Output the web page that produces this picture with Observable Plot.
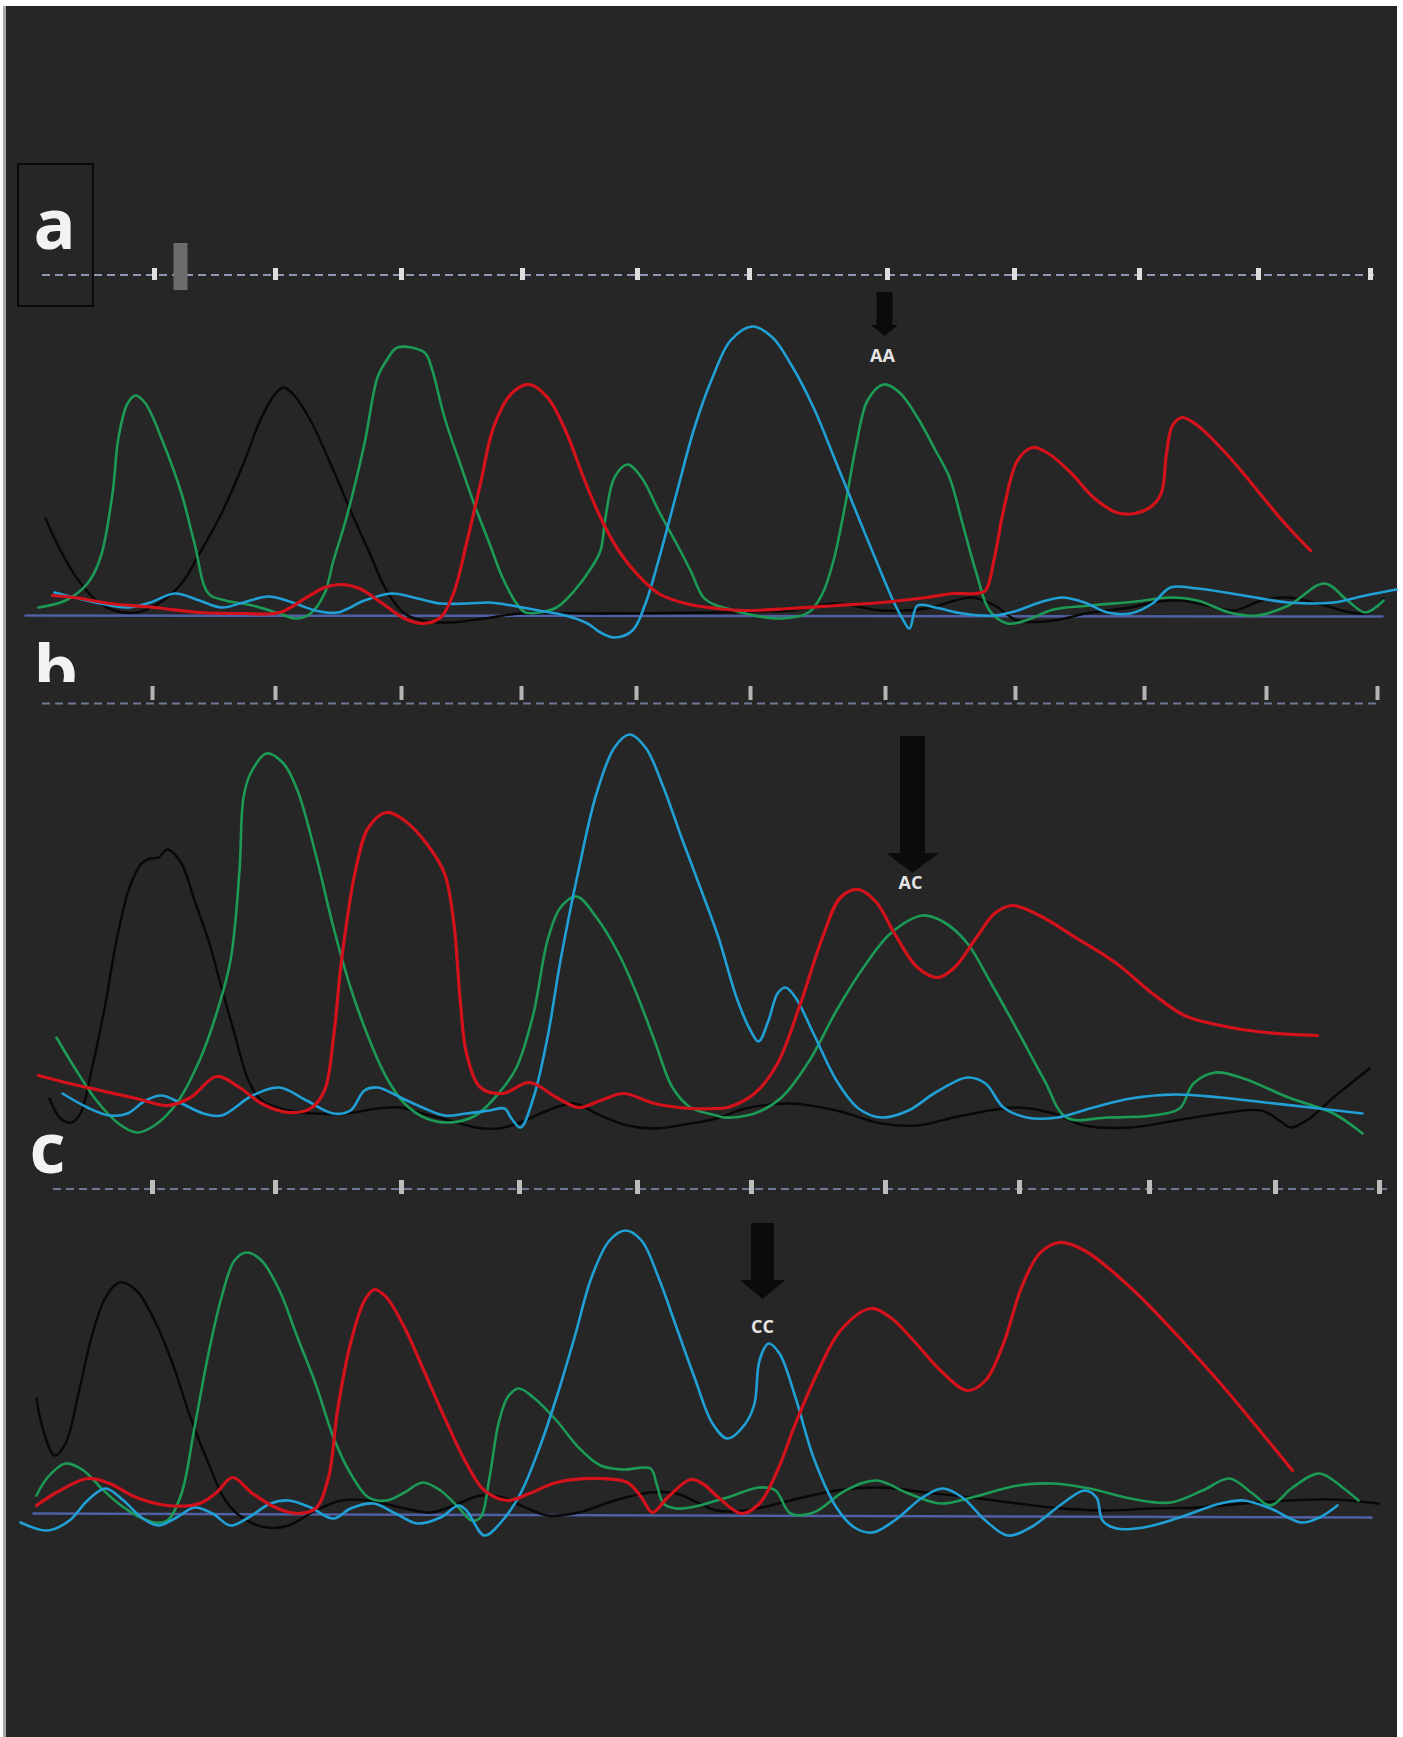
<!DOCTYPE html>
<html>
<head>
<meta charset="utf-8">
<script src="https://cdn.jsdelivr.net/npm/d3@7"></script>
<script src="https://cdn.jsdelivr.net/npm/@observablehq/plot@0.6"></script>
<style>
  html, body { margin: 0; padding: 0; background: #ffffff; }
  #page { position: relative; width: 1403px; height: 1737px; overflow: hidden; background: #ffffff; }
  #edge { position: absolute; left: 3px; top: 6px; width: 3px; height: 1731px; background: #a8a8a8; }
  #dark { position: absolute; left: 6px; top: 6px; width: 1391px; height: 1731px; background: #262626; }
  .panel { position: absolute; left: 0; width: 1403px; overflow: hidden; }
  .panel svg { display: block; }
</style>
</head>
<body>
<div id="page"><div id="edge"></div><div id="dark"></div></div>
<script>
// ---------- data: scan position (x) and signal above baseline (s) ----------
const dyes = ["black", "green", "blue", "red"];
const dyeColors = ["#080808", "#1c9a56", "#21a0d6", "#d3121c"];
const dyeWidths = [2.4, 2.6, 2.6, 3.2];

// panel a  (genotype AA)
const aBlack = [[45,97],[60,65],[78,35],[96,15],[114,5],[136,3],[158,12],[181,32],[199,62],[221,102],[243,152],[261,198],[275,222],[283,228],[292,222],[310,195],[333,145],[350,105],[368,65],[386,25],[404,2],[422,-5],[449,-7],[484,-3],[520,2],[600,2],[716,3],[745,4],[790,5],[836,12],[881,5],[926,7],[971,18],[994,10],[1017,-5],[1053,-5],[1085,2],[1130,8],[1152,13],[1180,15],[1207,10],[1234,5],[1261,15],[1288,18],[1324,10],[1351,3],[1369,3],[1383,17]];
const aGreen = [[38,8],[65,15],[87,32],[100,58],[112,122],[118,178],[127,212],[135,220],[145,212],[163,172],[181,122],[194,72],[208,22],[225,15],[252,10],[279,2],[295,-3],[310,2],[324,22],[333,55],[346,98],[364,172],[377,238],[386,255],[397,268],[424,263],[431,248],[444,198],[462,145],[475,108],[489,72],[502,38],[516,12],[525,3],[538,3],[556,8],[574,25],[591,48],[600,65],[605,98],[614,138],[627,151],[641,138],[658,105],[676,72],[690,45],[703,18],[716,10],[723,8],[754,0],[781,-3],[808,3],[822,22],[833,55],[845,112],[856,172],[867,215],[883,231],[899,223],[917,198],[935,165],[949,138],[962,92],[976,42],[989,5],[1007,-8],[1025,-5],[1053,6],[1090,10],[1135,14],[1170,18],[1197,15],[1229,3],[1256,0],[1288,10],[1324,32],[1347,15],[1365,3],[1383,15]];
const aBlue = [[54,23],[74,18],[100,12],[127,8],[150,13],[174,22],[199,15],[221,8],[243,13],[268,19],[292,13],[315,5],[337,3],[364,15],[391,22],[413,18],[440,12],[466,12],[489,13],[511,10],[538,5],[565,0],[587,-8],[600,-17],[614,-22],[632,-15],[645,12],[658,55],[676,122],[694,188],[712,238],[730,275],[752,289],[772,278],[790,252],[813,208],[836,152],[858,98],[881,42],[894,12],[903,-5],[909,-13],[917,10],[935,8],[962,2],[994,0],[1017,5],[1039,13],[1062,18],[1084,13],[1107,3],[1130,2],[1152,12],[1170,28],[1197,27],[1243,20],[1288,13],[1333,13],[1365,20],[1396,26]];
const aRed = [[52,20],[74,18],[109,12],[154,8],[199,3],[243,2],[279,3],[306,18],[324,28],[341,31],[359,27],[382,12],[404,-3],[422,-8],[440,-2],[453,22],[466,72],[480,132],[493,188],[511,222],[529,231],[547,218],[565,185],[583,138],[600,98],[618,65],[636,42],[658,22],[685,12],[716,7],[745,5],[790,7],[836,10],[881,13],[926,18],[953,22],[976,22],[985,25],[994,58],[1003,105],[1017,155],[1032,168],[1048,162],[1071,142],[1093,118],[1116,103],[1134,102],[1152,110],[1161,123],[1166,162],[1172,190],[1182,198],[1197,190],[1220,168],[1243,142],[1265,115],[1288,88],[1310,65]];

// panel b  (genotype AC)
const bBlack = [[49,27],[60,7],[71,3],[80,12],[91,55],[105,122],[116,185],[129,238],[141,262],[150,267],[158,268],[167,276],[181,262],[194,225],[208,185],[221,138],[234,92],[248,45],[261,25],[288,15],[315,12],[346,12],[377,17],[400,18],[422,12],[449,5],[475,-2],[498,-3],[520,3],[547,15],[574,22],[600,10],[627,0],[654,-3],[690,2],[716,7],[745,17],[790,22],[836,15],[881,2],[917,0],[962,10],[1017,18],[1053,12],[1084,0],[1130,-2],[1175,5],[1220,12],[1261,15],[1279,5],[1290,-2],[1306,5],[1333,28],[1369,57]];
const bGreen = [[56,88],[74,58],[96,25],[118,2],[136,-7],[154,0],[176,22],[199,65],[216,112],[230,165],[239,255],[243,328],[250,352],[266,372],[283,362],[297,335],[315,272],[333,198],[350,138],[368,88],[386,48],[404,22],[426,7],[449,3],[475,10],[498,32],[516,58],[533,112],[547,185],[560,218],[576,229],[596,208],[618,172],[636,132],[654,85],[672,38],[690,18],[716,10],[723,8],[754,12],[781,28],[809,65],[836,115],[863,158],[890,192],[922,210],[944,203],[967,182],[989,145],[1017,95],[1044,45],[1066,8],[1107,8],[1152,10],[1179,17],[1193,42],[1215,53],[1243,47],[1288,28],[1333,12],[1362,-8]];
const bBlue = [[62,32],[87,18],[109,10],[127,12],[145,25],[161,30],[181,22],[203,12],[221,10],[252,30],[279,38],[306,25],[333,12],[350,15],[364,35],[377,38],[400,28],[422,18],[444,10],[466,12],[489,15],[504,17],[511,7],[520,-2],[533,28],[547,88],[560,165],[578,255],[596,332],[614,378],[629,391],[645,378],[663,338],[681,288],[699,240],[718,188],[736,128],[750,95],[758,84],[768,105],[777,132],[785,138],[795,128],[813,92],[836,45],[858,17],[881,8],[908,15],[935,33],[967,48],[985,42],[1003,18],[1026,8],[1057,8],[1093,18],[1130,27],[1175,31],[1220,28],[1265,23],[1310,18],[1362,12]];
const bRed = [[38,50],[65,43],[100,35],[136,27],[167,20],[190,28],[216,49],[239,38],[261,22],[288,13],[310,17],[324,35],[333,88],[341,165],[355,255],[368,298],[386,313],[404,305],[426,282],[444,252],[453,205],[460,122],[466,72],[480,38],[502,32],[529,43],[556,28],[578,18],[600,25],[623,32],[654,22],[690,17],[716,17],[727,18],[754,32],[777,62],[800,122],[822,188],[840,228],[858,236],[876,223],[894,192],[917,158],[937,148],[953,157],[976,188],[994,212],[1012,220],[1039,210],[1075,188],[1116,162],[1152,132],[1184,110],[1220,100],[1265,93],[1317,90]];

// panel c  (genotype CC)
const cBlack = [[36,117],[42,88],[54,60],[65,72],[78,122],[91,178],[105,218],[119,233],[136,225],[154,195],[172,152],[190,98],[208,52],[225,15],[243,-3],[266,-12],[288,-10],[315,5],[341,15],[368,15],[400,8],[431,3],[458,12],[480,20],[502,18],[525,8],[547,0],[578,3],[614,15],[650,23],[676,22],[699,12],[716,5],[745,5],[790,15],[836,25],[881,28],[926,23],[971,18],[1017,12],[1062,7],[1107,5],[1152,7],[1197,8],[1243,12],[1288,15],[1333,16],[1378,12]];
const cGreen = [[36,20],[47,38],[65,52],[83,45],[100,28],[118,12],[136,0],[154,-7],[167,-5],[181,22],[194,88],[208,162],[221,218],[234,255],[246,263],[261,255],[279,225],[297,178],[315,132],[333,78],[350,42],[368,18],[386,15],[404,23],[422,33],[440,25],[458,8],[471,-5],[480,-2],[489,38],[498,92],[507,118],[518,127],[533,118],[556,95],[578,68],[600,50],[623,46],[650,47],[656,32],[663,12],[676,7],[699,10],[716,15],[727,18],[759,28],[775,25],[790,2],[813,3],[845,25],[876,35],[908,22],[940,12],[971,18],[1017,30],[1053,32],[1089,27],[1130,17],[1170,13],[1202,25],[1229,37],[1252,22],[1270,10],[1292,28],[1319,42],[1342,28],[1358,15]];
const cBlue = [[20,-7],[47,-15],[69,-5],[87,15],[105,27],[123,15],[141,-2],[158,-10],[176,-2],[194,8],[212,2],[230,-10],[248,-2],[270,12],[288,15],[310,8],[333,-3],[350,7],[373,12],[395,2],[417,-8],[440,-2],[458,10],[466,5],[484,-20],[502,-5],[520,22],[538,65],[556,118],[574,178],[591,238],[609,275],[625,285],[641,275],[658,238],[676,188],[694,138],[712,92],[727,77],[745,92],[754,112],[759,155],[768,172],[779,162],[795,118],[813,58],[836,8],[854,-12],[872,-17],[894,-5],[922,18],[942,27],[962,18],[985,-5],[1007,-20],[1030,-12],[1062,12],[1084,25],[1096,18],[1102,-5],[1116,-13],[1143,-12],[1179,-2],[1220,12],[1243,15],[1270,7],[1301,-7],[1319,-2],[1337,10]];
const cRed = [[36,10],[56,23],[87,37],[109,32],[136,18],[167,10],[199,12],[216,23],[232,38],[252,22],[275,8],[297,2],[315,7],[328,38],[337,105],[350,172],[364,215],[374,226],[386,218],[404,188],[422,148],[444,98],[466,52],[484,25],[507,15],[529,22],[556,33],[600,37],[627,33],[641,18],[652,3],[667,18],[690,36],[702,32],[718,18],[741,2],[759,12],[777,45],[795,92],[818,145],[840,185],[870,207],[890,198],[913,175],[940,145],[967,125],[985,135],[1003,172],[1021,228],[1039,262],[1059,273],[1084,265],[1130,228],[1175,182],[1220,132],[1265,78],[1292,45]];

// scan-ruler tick positions
const ticksA = [154, 275, 401, 522, 637, 749, 887, 1014, 1139, 1258, 1370];
const ticksB = [152, 275, 401, 521, 636, 750, 885, 1015, 1144, 1266, 1377];
const ticksC = [152, 275, 401, 519, 637, 751, 885, 1019, 1149, 1275, 1379];

// genotype calls
const calls = ["AA", "AC", "CC"];
const callPos = [884, 912, 762];
const panelLetters = ["a", "b", "c"];

// ---------- layout (page geometry, not data) ----------
const W = 1403;
const layouts = [
  {top: 0,    height: 682, base: 615, ruler: 340.5, rulerX: [42, 1374], tick: [335, 347], tickColor: "#dedede", tickW: 5, rulerColor: "#8d97b2",
   baseline: [[25, 0], [1382, -1]],
   arrow: {top: 323, neck: 290, tip: 280, w: 15, hw: 25}, callDx: -2, callY: 259},
  {top: 682,  height: 458, base: 443, ruler: 422,   rulerX: [42, 1378], tick: [425, 439], tickColor: "#b4b4b4", tickW: 4, rulerColor: "#6e7995",
   baseline: null,
   arrow: {top: 389, neck: 272, tip: 253, w: 24, hw: 50}, callDx: -2, callY: 242},
  {top: 1080, height: 657, base: 435, ruler: 326.5, rulerX: [53, 1392], tick: [321, 335], tickColor: "#bdbdbd", tickW: 5, rulerColor: "#6e7995",
   baseline: [[33, 2], [1371, -2]],
   arrow: {top: 292, neck: 235, tip: 217, w: 22, hw: 43}, callDx: 0, callY: 188}
];
const traceSets = [
  [aBlack, aGreen, aBlue, aRed],
  [bBlack, bGreen, bBlue, bRed],
  [cBlack, cGreen, cBlue, cRed]
];
const ticksets = [ticksA, ticksB, ticksC];

function arrowPolygon(x, a) {
  return [
    [x - a.w / 2, a.top], [x + a.w / 2, a.top], [x + a.w / 2, a.neck],
    [x + a.hw / 2, a.neck], [x, a.tip], [x - a.hw / 2, a.neck],
    [x - a.w / 2, a.neck], [x - a.w / 2, a.top]
  ];
}

const page = document.getElementById("page");
const font = "'Open Sans', 'DejaVu Sans', sans-serif";

layouts.forEach((L, i) => {
  const marks = [];
  // dashed scan ruler
  marks.push(Plot.ruleY([L.ruler], {x1: L.rulerX[0], x2: L.rulerX[1], stroke: L.rulerColor, strokeWidth: 2, strokeDasharray: "8,5"}));
  marks.push(Plot.ruleX(ticksets[i], {x: d => d, y1: L.tick[0], y2: L.tick[1], stroke: L.tickColor, strokeWidth: L.tickW}));
  if (i === 0) {
    // cursor highlight and the framed letter
    marks.push(Plot.ruleX([180], {y1: 325, y2: 372, stroke: "#6c6c6c", strokeWidth: 14}));
    marks.push(Plot.rect([{x1: 18, x2: 93, y1: 309, y2: 451}], {x1: "x1", x2: "x2", y1: "y1", y2: "y2", fill: "none", stroke: "#0a0a0a", strokeWidth: 2}));
  }
  // baseline
  if (L.baseline) {
    marks.push(Plot.line(L.baseline, {x: d => d[0], y: d => d[1], stroke: "#5060a4", strokeWidth: 2.5}));
  }
  // traces
  traceSets[i].forEach((tr, k) => {
    marks.push(Plot.line(tr, {x: d => d[0], y: d => d[1], stroke: dyeColors[k], strokeWidth: dyeWidths[k], curve: "catmull-rom", strokeLinejoin: "round", strokeLinecap: "round"}));
  });
  // genotype arrow + call
  const poly = arrowPolygon(callPos[i], L.arrow);
  marks.push(Plot.line(poly, {x: d => d[0], y: d => d[1], fill: "#0b0b0b", stroke: "#0b0b0b", strokeWidth: 1}));
  marks.push(Plot.text([calls[i]], {x: callPos[i] + L.callDx, y: L.callY, text: d => d, fill: "#e4e4e4", fontSize: 18, fontWeight: "bold", fontFamily: font}));
  // panel letters
  if (i === 0) {
    marks.push(Plot.text([panelLetters[0]], {x: 33, y: 367, text: d => d, fill: "#f2f2f2", fontSize: 70, fontWeight: "bold", fontFamily: font, textAnchor: "start", lineAnchor: "bottom"}));
    // the reference shows the "b" letter truncated by the panel edge
    marks.push(Plot.text([panelLetters[1]], {x: 33, y: -79, text: d => d, fill: "#f2f2f2", fontSize: 70, fontWeight: "bold", fontFamily: font, textAnchor: "start", lineAnchor: "bottom"}));
  }
  if (i === 2) {
    marks.push(Plot.text([panelLetters[2]], {x: 29, y: 343, text: d => d, fill: "#f2f2f2", fontSize: 70, fontWeight: "bold", fontFamily: font, textAnchor: "start", lineAnchor: "bottom"}));
  }

  const svg = Plot.plot({
    width: W,
    height: L.height,
    margin: 0,
    x: {domain: [0, W], range: [0, W], axis: null},
    y: {domain: [L.base - L.height, L.base], range: [L.height, 0], axis: null},
    style: {background: "transparent", overflow: "hidden"},
    marks
  });
  const div = document.createElement("div");
  div.className = "panel";
  div.style.top = L.top + "px";
  div.style.height = L.height + "px";
  div.appendChild(svg);
  page.appendChild(div);
});
</script>
</body>
</html>
